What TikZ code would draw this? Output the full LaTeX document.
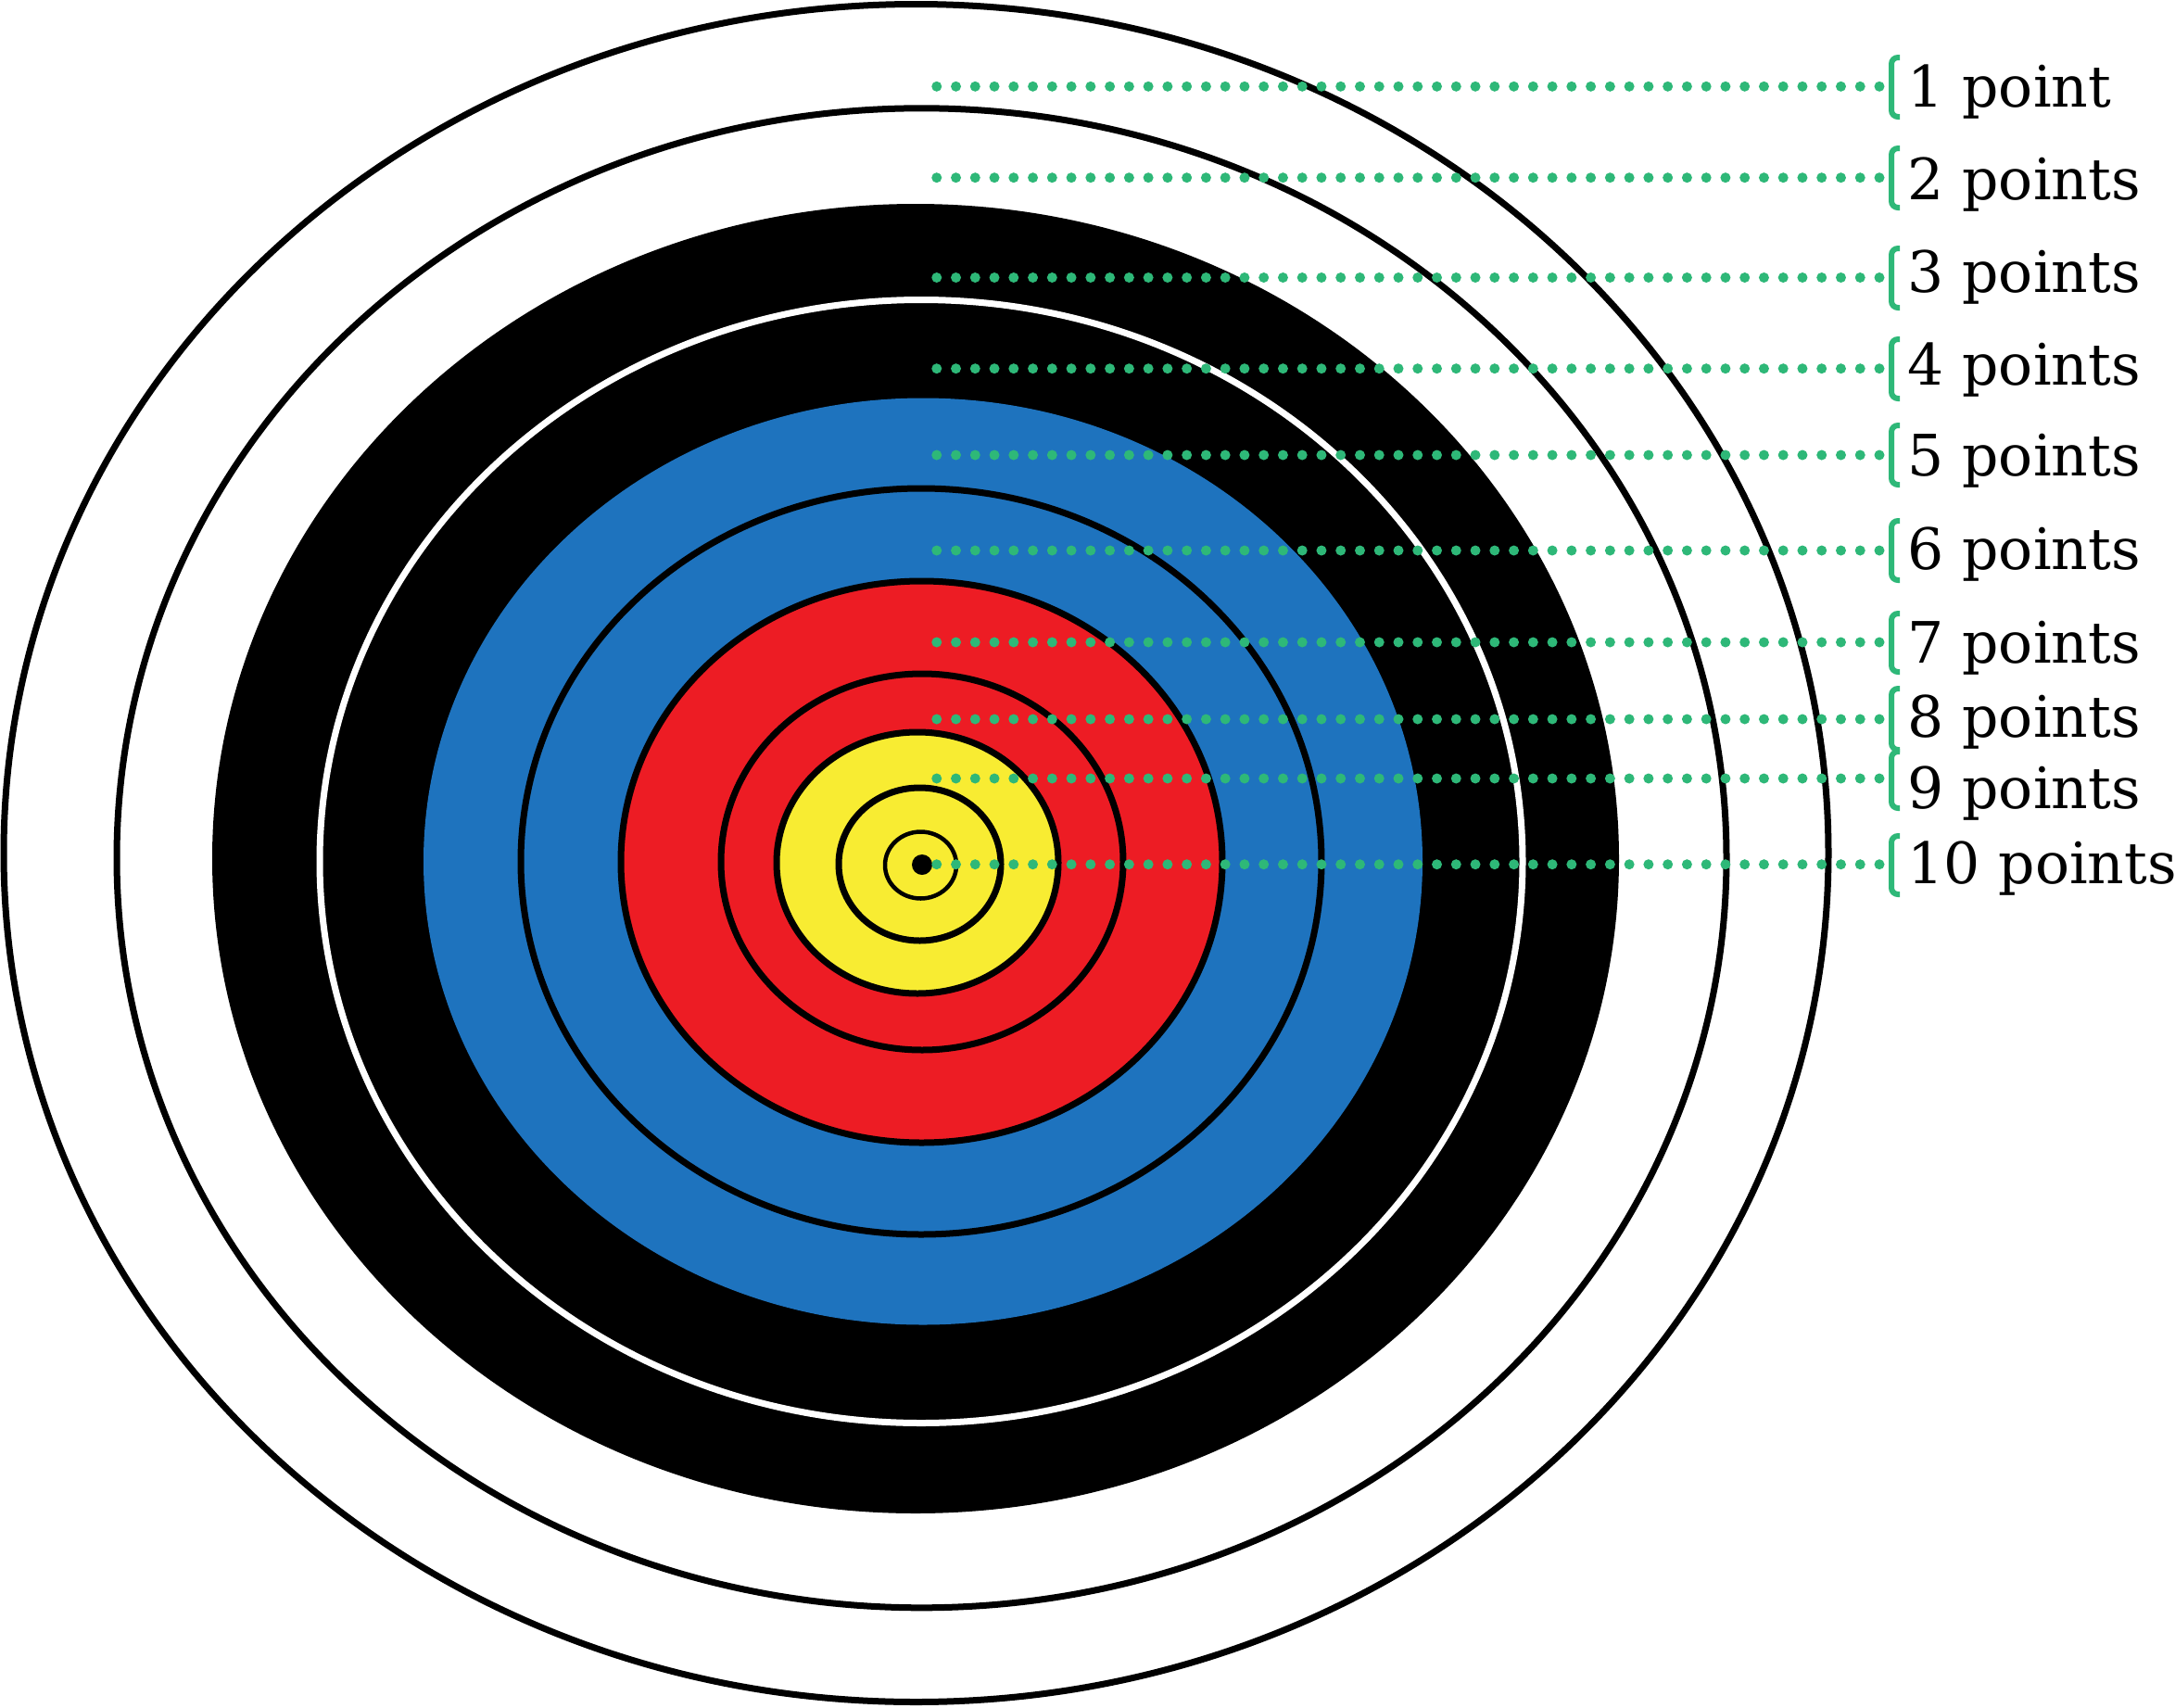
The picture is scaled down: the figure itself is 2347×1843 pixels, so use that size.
\documentclass[tikz,border=0pt]{standalone}
\usepackage{fontspec}
\setmainfont{DejaVu Serif}
\definecolor{tgreen}{RGB}{46,184,120}
\definecolor{tblue}{RGB}{30,115,190}
\definecolor{tred}{RGB}{237,28,36}
\definecolor{tyellow}{RGB}{248,236,50}
\begin{document}
\begin{tikzpicture}[x=0.25pt,y=-0.25pt,
  ring/.style={draw=black,line width=1.75pt},
  thinring/.style={draw=black,line width=1.125pt},
  whitering/.style={draw=white,line width=1.75pt},
  dotline/.style={draw=tgreen,line width=2.75pt,line cap=round,dash pattern=on 0pt off 5.19pt},
  bracketline/.style={draw=tgreen,line width=1.5pt,rounded corners=1.75pt},
  lbl/.style={font=\fontsize{15.4}{18}\selectfont,inner sep=0pt,anchor=base west}]
\useasboundingbox (0,0) rectangle (2347,1843);
\fill[white] (0,0) rectangle (2347,1843);
% rings
\draw[ring] (988.5,920.5) ellipse [x radius=246.125pt, y radius=229pt];
\draw[ring] (994.5,925.8) ellipse [x radius=217.125pt, y radius=202.25pt];
\fill[black] (988,926.5) ellipse [x radius=189.75pt, y radius=176.625pt];
\draw[whitering] (994,929.5) ellipse [x radius=162.25pt, y radius=151.5pt];
\fill[tblue] (996,929.5) ellipse [x radius=134.75pt, y radius=125pt];
\draw[ring] (994,929.5) ellipse [x radius=108pt, y radius=100.625pt];
\draw[ring,fill=tred] (994.5,930) ellipse [x radius=81.125pt, y radius=75.75pt];
\draw[ring] (995,930) ellipse [x radius=54.25pt, y radius=50.75pt];
\draw[ring,fill=tyellow] (990,931) ellipse [x radius=38pt, y radius=35.25pt];
\draw[ring] (992.5,932.5) ellipse [x radius=21.875pt, y radius=20.625pt];
\draw[thinring] (993.5,933.5) ellipse [x radius=9.625pt, y radius=9pt];
\fill[black] (995,933) circle [radius=2.75pt];
% labels: dot row / bracket top / bracket bottom / baseline / text / name
\foreach \yy/\bt/\bb/\bl/\txt/\n in {
    93.3/62/126/115/1 point/1,
    191.7/160/224/215/2 points/2,
    299.5/268/332/315/3 points/3,
    397.7/366/430/415/4 points/4,
    491/459/523/513/5 points/5,
    594/562/626/614/6 points/6,
    693/662/725/715/7 points/7,
    776/743/809/795/8 points/8,
    840/811/872/872/9 points/9,
    932.7/902/965/953/10 points/10}{
  \coordinate (s\n) at (1010.7,\yy);
  \coordinate (e\n) at (2028,\yy);
  \draw[dotline] (e\n) -- (s\n);
  \draw[bracketline] (2050,\bt) -- (2041,\bt) -- (2041,\bb) -- (2050,\bb);
  \node[lbl] (l\n) at (2058,\bl) {\txt};
}
\end{tikzpicture}
\end{document}
